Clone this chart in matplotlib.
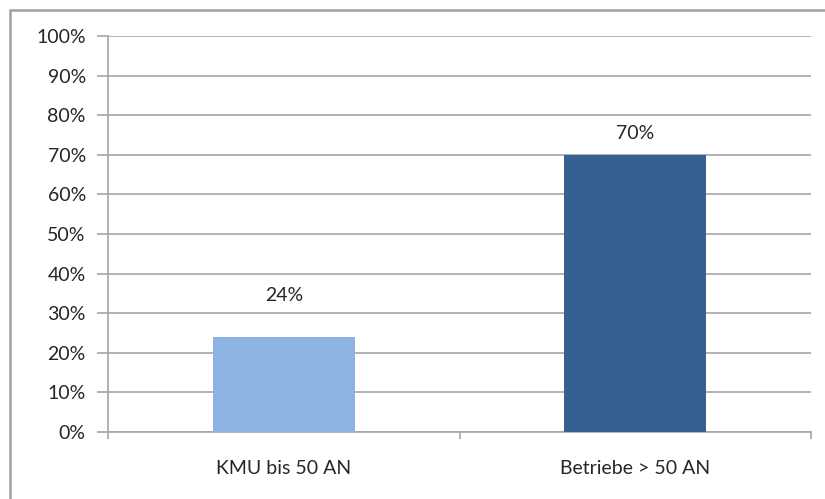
import matplotlib.pyplot as plt
from matplotlib.patches import Rectangle
from matplotlib.ticker import MultipleLocator, FuncFormatter

categories = ["KMU bis 50 AN", "Betriebe > 50 AN"]
values = [24, 70]
label_offsets = [10.5, 5.5]
bar_colors = ["#8DB3E2", "#376092"]

plt.rcParams["font.family"] = ["Lato", "DejaVu Sans"]
grid_col = "#A6A6A6"
fs = 14

fig = plt.figure(figsize=(8.25, 4.99), dpi=100)
ax = fig.add_axes([108 / 825, 67 / 499, 703 / 825, 396 / 499])

x = range(len(categories))
ax.bar(x, values, width=0.404, color=bar_colors, zorder=3)
for xi, v, off in zip(x, values, label_offsets):
    ax.text(xi, v + off, f"{v}%", ha="center", va="center", fontsize=fs, color="#262626")

ax.set_xlim(-0.5, 1.5)
ax.set_ylim(0, 100)
ax.yaxis.set_major_locator(MultipleLocator(10))
ax.yaxis.set_major_formatter(FuncFormatter(lambda v, p: f"{v:.0f}%"))
ax.yaxis.grid(True, color=grid_col, linewidth=1.2, zorder=0)

ax.set_xticks(list(x))
ax.set_xticklabels(categories)
ax.set_xticks([-0.5, 0.5, 1.5], minor=True)
ax.tick_params(axis="x", which="major", length=0, pad=20, labelsize=fs, labelcolor="#262626")
ax.tick_params(axis="x", which="minor", length=5, color=grid_col, width=1.2)
ax.tick_params(axis="y", length=8, color=grid_col, width=1.2, pad=8, labelsize=fs, labelcolor="#262626")

for s in ["top", "right"]:
    ax.spines[s].set_visible(False)
for s in ["left", "bottom"]:
    ax.spines[s].set_color(grid_col)
    ax.spines[s].set_linewidth(1.2)

fig.patches.append(Rectangle((10 / 825, -0.1), 1.2, 1.1 - 10 / 499, transform=fig.transFigure,
                             fill=False, edgecolor="#A0A0A0", linewidth=1.8))

fig.savefig("out.png", dpi=100)
